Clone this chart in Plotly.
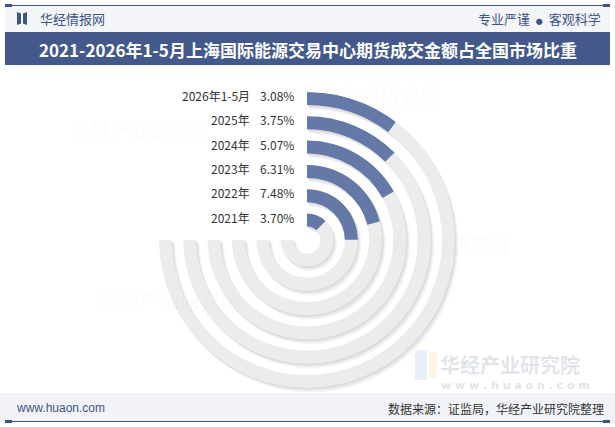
import plotly.graph_objects as go

years = ["2021年", "2022年", "2023年", "2024年", "2025年", "2026年1-5月"]
shares = [3.70, 7.48, 6.31, 5.07, 3.75, 3.08]
value_labels = ["3.70%", "7.48%", "6.31%", "5.07%", "3.75%", "3.08%"]

W, H = 615, 427
FULL = 30.0          # value that would fill a whole circle
TRACK = 270.0        # degrees of the grey track
DEG = 360.0 / FULL

cx, cy, R = 307, 240, 148
pitch = 24.3
thick = 13
n = len(years)
bases = [R - pitch * (n - 1 - i) - thick for i in range(n)]

BLUE = "#6479a8"
GREY = "#ececec"
NAVY = "#3d5486"

fig = go.Figure()

def dom(dx=0, dy=0):
    x0, x1 = (cx - R + dx) / W, (cx + R + dx) / W
    y0, y1 = (H - (cy + R + dy)) / H, (H - (cy - R + dy)) / H
    return dict(x=[x0, x1], y=[y0, y1])

# shadow layers (opaque light greys, drawn first / underneath)
shadow_specs = [("polar", 3.5, 4.5, "#f4f4f4"), ("polar2", 2.2, 3, "#e8e8e8"), ("polar3", 1.2, 1.6, "#dcdcdc")]
for sp, dx, dy, col in shadow_specs:
    fig.add_trace(go.Barpolar(
        r=[thick] * n, base=bases, theta=[TRACK / 2] * n, width=[TRACK] * n,
        marker=dict(color=col, line=dict(width=0), opacity=1), subplot=sp, hoverinfo="skip", showlegend=False))

# grey tracks
fig.add_trace(go.Barpolar(
    r=[thick] * n, base=bases, theta=[TRACK / 2] * n, width=[TRACK] * n,
    marker=dict(color=GREY, line=dict(width=0), opacity=1), subplot="polar4", hoverinfo="skip", showlegend=False))
# values
fig.add_trace(go.Barpolar(
    r=[thick] * n, base=bases, theta=[v * DEG / 2 for v in shares], width=[v * DEG for v in shares],
    marker=dict(color=BLUE, line=dict(width=0), opacity=1), subplot="polar4",
    text=years, hovertemplate="%{text}: %{customdata}<extra></extra>", customdata=value_labels,
    showlegend=False))

def polar_layout(d):
    return dict(
        domain=d, bgcolor="rgba(0,0,0,0)", hole=0,
        radialaxis=dict(range=[0, R], visible=False, showgrid=False),
        angularaxis=dict(visible=False, direction="clockwise", rotation=90, showgrid=False),
    )

fig.update_layout(
    width=W, height=H, margin=dict(l=0, r=0, t=0, b=0),
    paper_bgcolor="white", plot_bgcolor="white",
    polar=polar_layout(dom(3.5, 4.5)),
    polar2=polar_layout(dom(2.2, 3)),
    polar3=polar_layout(dom(1.2, 1.6)),
    polar4=polar_layout(dom()),
    font=dict(family="Noto Sans CJK SC, Noto Sans, sans-serif"),
)

shapes = []
ann = []

def px(x):
    return x / W

def py(y):
    return 1 - y / H

# header band
shapes.append(dict(type="rect", xref="paper", yref="paper", x0=px(5), x1=px(610), y0=py(32), y1=py(6),
                   fillcolor="#f3f5f9", line=dict(width=0), layer="below"))
shapes.append(dict(type="line", xref="paper", yref="paper", x0=px(5), x1=px(610), y0=py(5.5), y1=py(5.5),
                   line=dict(color=NAVY, width=1.2)))
shapes.append(dict(type="rect", xref="paper", yref="paper", x0=px(5), x1=px(12), y0=py(7), y1=py(4),
                   fillcolor=NAVY, line=dict(width=0)))
shapes.append(dict(type="rect", xref="paper", yref="paper", x0=px(603), x1=px(610), y0=py(7), y1=py(4),
                   fillcolor=NAVY, line=dict(width=0)))
# logo icon
shapes.append(dict(type="path", xref="paper", yref="paper",
                   path=f"M {px(17)} {py(12)} L {px(21)} {py(13.5)} L {px(21)} {py(23.5)} L {px(17)} {py(25)} Z",
                   fillcolor=NAVY, line=dict(width=0)))
shapes.append(dict(type="path", xref="paper", yref="paper",
                   path=f"M {px(27)} {py(12)} L {px(23)} {py(13.5)} L {px(23)} {py(23.5)} L {px(27)} {py(25)} Z",
                   fillcolor=NAVY, line=dict(width=0)))
# title banner
shapes.append(dict(type="rect", xref="paper", yref="paper", x0=px(5), x1=px(610), y0=py(65), y1=py(32),
                   fillcolor="#43598b", line=dict(width=0)))
# footer
shapes.append(dict(type="rect", xref="paper", yref="paper", x0=px(0), x1=px(615), y0=py(421), y1=py(393),
                   fillcolor="#f1f3f8", line=dict(width=0), layer="below"))
shapes.append(dict(type="line", xref="paper", yref="paper", x0=px(5), x1=px(610), y0=py(421.5), y1=py(421.5),
                   line=dict(color=NAVY, width=1.2)))
shapes.append(dict(type="rect", xref="paper", yref="paper", x0=px(5), x1=px(12), y0=py(423), y1=py(420),
                   fillcolor=NAVY, line=dict(width=0)))
shapes.append(dict(type="rect", xref="paper", yref="paper", x0=px(603), x1=px(610), y0=py(423), y1=py(420),
                   fillcolor=NAVY, line=dict(width=0)))
# watermark logo blocks
shapes.append(dict(type="rect", xref="paper", yref="paper", x0=px(415), x1=px(427), y0=py(380), y1=py(350),
                   fillcolor="rgba(180,205,235,0.30)", line=dict(width=0), layer="below"))
shapes.append(dict(type="rect", xref="paper", yref="paper", x0=px(429), x1=px(437), y0=py(378), y1=py(352),
                   fillcolor="rgba(245,225,160,0.30)", line=dict(width=0), layer="below"))

ann.append(dict(x=px(38), y=py(18), xref="paper", yref="paper", text="华经情报网", showarrow=False,
                xanchor="left", yanchor="middle", font=dict(size=13, color=NAVY)))
ann.append(dict(x=px(603), y=py(18), xref="paper", yref="paper",
                text="专业严谨\u00a0\u00a0<span style='font-size:7px'>●</span>\u00a0\u00a0客观科学", showarrow=False,
                xanchor="right", yanchor="middle", font=dict(size=13, color=NAVY)))
ann.append(dict(x=0.5, y=py(49), xref="paper", yref="paper",
                text="<b>2021-2026年1-5月上海国际能源交易中心期货成交金额占全国市场比重</b>",
                showarrow=False, xanchor="center", yanchor="middle",
                font=dict(size=17, color="white", family="Noto Sans CJK SC")))
ann.append(dict(x=px(14), y=py(408), xref="paper", yref="paper", text="www.huaon.com", showarrow=False,
                xanchor="left", yanchor="middle", font=dict(size=12, color=NAVY, family="Liberation Sans, Arial")))
ann.append(dict(x=px(606), y=py(408), xref="paper", yref="paper", text="数据来源：证监局，华经产业研究院整理",
                showarrow=False, xanchor="right", yanchor="middle", font=dict(size=12, color="#333333")))
# watermarks
ann.append(dict(x=px(438), y=py(364), xref="paper", yref="paper", text="<b>华经产业研究院</b>", showarrow=False,
                xanchor="left", yanchor="middle", font=dict(size=20, color="rgba(150,160,175,0.30)")))
ann.append(dict(x=px(439), y=py(385), xref="paper", yref="paper", text="<b>w w w . h u a o n . c o m</b>",
                showarrow=False, xanchor="left", yanchor="middle",
                font=dict(size=11, color="rgba(150,160,175,0.30)", family="DejaVu Sans")))
for (x, y) in [(370, 95), (140, 130), (170, 300), (440, 245)]:
    ann.append(dict(x=px(x), y=py(y), xref="paper", yref="paper", text="<b>华经产业研究院</b>", showarrow=False,
                    xanchor="center", yanchor="middle", font=dict(size=20, color="rgba(160,170,185,0.05)")))

# ring labels
for i in range(n):
    y = cy - (bases[i] + thick / 2) - 3
    ann.append(dict(x=px(252), y=py(y), xref="paper", yref="paper", text=years[i], showarrow=False,
                    xanchor="right", yanchor="middle", font=dict(size=12, color="#333333")))
    ann.append(dict(x=px(296), y=py(y), xref="paper", yref="paper", text=value_labels[i], showarrow=False,
                    xanchor="right", yanchor="middle", font=dict(size=12, color="#333333")))

fig.update_layout(shapes=shapes, annotations=ann)
fig.write_html("out.html")
